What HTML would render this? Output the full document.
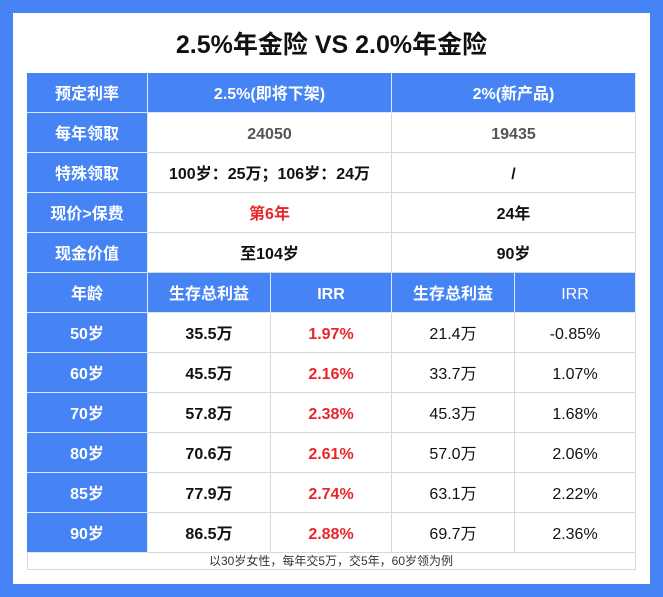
<!DOCTYPE html>
<html><head><meta charset="utf-8"><style>
body{margin:0;width:663px;height:597px;background:#4684f6;position:relative;overflow:hidden;font-family:"Liberation Sans","Noto Sans CJK SC",sans-serif}
.w{position:absolute;left:13px;top:13px;width:637px;height:571px;background:#fff}
.t{position:absolute;left:0;top:27px;width:663px;text-align:center;font-size:25px;font-weight:bold;color:#111;line-height:36px}
.c{position:absolute;box-sizing:border-box;text-align:center;font-size:16px;line-height:43px;height:40px;overflow:hidden;border-right:1px solid #d8d8d8;border-bottom:1px solid #d8d8d8;white-space:nowrap}
.b{background:#4684f6;color:#fff;font-weight:bold;border-color:#dce6ff}
.k{font-weight:bold;color:#111}
.r{font-weight:bold;color:#e8262a}
.n{color:#111}
</style></head><body>
<div class="w"></div>
<div class="t">2.5%年金险 VS 2.0%年金险</div>
<div style="position:absolute;left:27px;top:73px;width:609px;height:497px;border-left:1px solid #d8d8d8;border-top:1px solid #d8d8d8;box-sizing:border-box"></div>
<div id="g"></div>
<script>
var g=document.getElementById('g'),h='';
function c(x1,x2,y,cls,t){h+='<div class="c '+cls+'" style="left:'+x1+'px;top:'+y+'px;width:'+(x2-x1)+'px">'+t+'</div>';}
c(27,148,73,'b','预定利率');c(148,392,73,'b','2.5%(即将下架)');c(392,636,73,'b','2%(新产品)');
c(27,148,113,'b','每年领取');c(148,392,113,'k','<span style="color:#555">24050</span>');c(392,636,113,'k','<span style="color:#555">19435</span>');
c(27,148,153,'b','特殊领取');c(148,392,153,'k','100岁：25万；106岁：24万');c(392,636,153,'k','/');
c(27,148,193,'b','现价>保费');c(148,392,193,'r','第6年');c(392,636,193,'k','24年');
c(27,148,233,'b','现金价值');c(148,392,233,'k','至104岁');c(392,636,233,'k','90岁');
c(27,148,273,'b','年龄');c(148,271,273,'b','生存总利益');c(271,392,273,'b','IRR');c(392,515,273,'b','生存总利益');c(515,636,273,'b','<span style="font-weight:normal">IRR</span>');
var d=[['50岁','35.5万','1.97%','21.4万','-0.85%'],['60岁','45.5万','2.16%','33.7万','1.07%'],['70岁','57.8万','2.38%','45.3万','1.68%'],['80岁','70.6万','2.61%','57.0万','2.06%'],['85岁','77.9万','2.74%','63.1万','2.22%'],['90岁','86.5万','2.88%','69.7万','2.36%']];
d.forEach(function(r,i){var y=313+i*40;c(27,148,y,'b',r[0]);c(148,271,y,'k',r[1]);c(271,392,y,'r',r[2]);c(392,515,y,'n',r[3]);c(515,636,y,'n',r[4]);});
h+='<div class="c n" style="left:27px;top:553px;width:609px;height:17px;line-height:17px;font-size:12px;color:#333">以30岁女性，每年交5万，交5年，60岁领为例</div>';
g.innerHTML=h;
</script>
</body></html>
